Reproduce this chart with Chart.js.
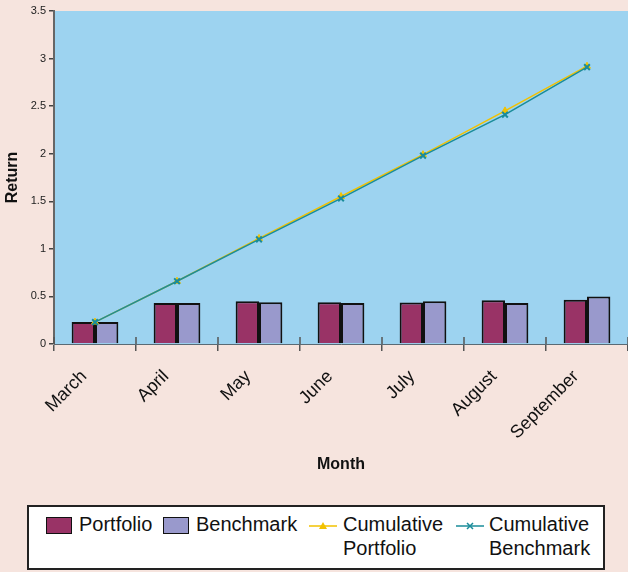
<!DOCTYPE html>
<html>
<head>
<meta charset="utf-8">
<script src="https://cdn.jsdelivr.net/npm/chart.js@4/dist/chart.umd.min.js"></script>
<style>
  html, body { margin: 0; padding: 0; background: #F6E4DE; }
  #wrap { position: relative; width: 628px; height: 572px; overflow: hidden; }
  canvas { position: absolute; left: 0; top: 0; }
  #legend { position: absolute; left: 27px; top: 505px; width: 574px; height: 61px; background: #fff; border: 2px solid #222;
            font-family: "Liberation Sans", Arial, sans-serif; font-size: 20px; line-height: 24px; color: #111; }
  .it { position: absolute; white-space: nowrap; }
  .sw { position: absolute; width: 24px; height: 15px; border: 1px solid #111; }
</style>
</head>
<body>
<div id="wrap">
  <canvas id="c" width="628" height="572"></canvas>
  <div id="legend"></div>
</div>
<script>
const categories = ["March", "April", "May", "June", "July", "August", "September"];
const portfolio = [0.23, 0.43, 0.45, 0.44, 0.435, 0.46, 0.465];
const benchmark = [0.23, 0.43, 0.44, 0.43, 0.45, 0.43, 0.50];
const cumulativePortfolio = [0.23, 0.66, 1.11, 1.55, 1.99, 2.45, 2.92];
const cumulativeBenchmark = [0.23, 0.66, 1.10, 1.53, 1.98, 2.41, 2.91];
const yTicks = [0, 0.5, 1, 1.5, 2, 2.5, 3, 3.5];
const yTickLabels = ["0", "0.5", "1", "1.5", "2", "2.5", "3", "3.5"];

const seriesNames = ["Portfolio", "Benchmark", "Cumulative\nPortfolio", "Cumulative\nBenchmark"];
const colors = { portfolio: "#993366", benchmark: "#9999CC", cumP: "#F2C200", cumB: "#1A8C9A" };

const FONT = '"Liberation Sans", Arial, sans-serif';

const plotBg = {
  id: 'plotBg',
  beforeDraw(chart) {
    const { ctx, chartArea: a } = chart;
    ctx.save();
    ctx.fillStyle = '#9DD3F0';
    ctx.fillRect(a.left, a.top, a.right - a.left, a.bottom - a.top);
    ctx.restore();
  },
  afterDatasetsDraw(chart) {
    const { ctx, chartArea: a } = chart;
    const xs = chart.scales.x;
    ctx.save();
    ctx.strokeStyle = '#555';
    ctx.lineWidth = 1.5;
    for (let i = 0; i <= categories.length; i++) {
      const px = Math.round(xs.getPixelForValue(i - 0.5));
      ctx.beginPath();
      ctx.moveTo(px, a.bottom - 7);
      ctx.lineTo(px, a.bottom);
      ctx.stroke();
    }
    ctx.restore();
  }
};

new Chart(document.getElementById('c'), {
  type: 'bar',
  data: {
    labels: categories,
    datasets: [
      { type: 'line', label: 'Cumulative Benchmark', data: cumulativeBenchmark, borderColor: colors.cumB, backgroundColor: colors.cumB,
        borderWidth: 1.5, pointStyle: 'crossRot', pointRadius: 4, pointBorderWidth: 2, pointBorderColor: colors.cumB, order: 0, tension: 0 },
      { type: 'line', label: 'Cumulative Portfolio', data: cumulativePortfolio, borderColor: colors.cumP, backgroundColor: colors.cumP,
        borderWidth: 1.5, pointStyle: 'triangle', pointRadius: 4, pointBorderWidth: 1, pointBorderColor: colors.cumP, order: 1, tension: 0 },
      { label: 'Portfolio', data: portfolio, backgroundColor: colors.portfolio, borderColor: '#111', borderWidth: 2,
        categoryPercentage: 0.57, barPercentage: 1.0, order: 2 },
      { label: 'Benchmark', data: benchmark, backgroundColor: colors.benchmark, borderColor: '#111', borderWidth: 2,
        categoryPercentage: 0.57, barPercentage: 1.0, order: 2 }
    ]
  },
  options: {
    responsive: false,
    animation: false,
    devicePixelRatio: 1,
    layout: { autoPadding: false, padding: { left: 3, top: 11, right: 0, bottom: 98 } },
    plugins: { legend: { display: false }, tooltip: { enabled: false } },
    scales: {
      x: {
        grid: { display: true, drawOnChartArea: false, offset: true, color: '#555', lineWidth: 1.5, tickLength: 7 },
        border: { display: true, color: '#5a6a74', width: 1 },
        ticks: { minRotation: 45, maxRotation: 45, autoSkip: false, color: '#111', font: { family: FONT, size: 18 }, padding: 15, labelOffset: -11 },
        title: { display: true, text: 'Month', color: '#111', font: { family: FONT, size: 16, weight: 'bold' }, padding: 0 },
        afterFit(s) { s.height = 130; s.paddingLeft = 0; s.paddingRight = 0; }
      },
      y: {
        min: 0, max: 3.5,
        afterBuildTicks(s) { s.ticks = yTicks.map(v => ({ value: v })); },
        grid: { display: true, drawOnChartArea: false, color: '#444', lineWidth: 1.5, tickLength: 5 },
        border: { display: true, color: '#666', width: 2 },
        ticks: { color: '#222', font: { family: FONT, size: 11 }, padding: 3,
                 callback: (v) => { const i = yTicks.indexOf(v); return i >= 0 ? yTickLabels[i] : ''; } },
        title: { display: true, text: 'Return', color: '#111', font: { family: FONT, size: 16, weight: 'bold' }, padding: 0 },
        afterFit(s) { s.width = 51; }
      }
    }
  },
  plugins: [plotBg]
});

const lg = document.getElementById('legend');
function addText(txt, left) {
  const d = document.createElement('div');
  d.className = 'it';
  d.style.left = left + 'px';
  d.style.top = '5px';
  d.innerHTML = txt.split('\n').join('<br>');
  lg.appendChild(d);
}
function addSwatch(color, left) {
  const s = document.createElement('div');
  s.className = 'sw';
  s.style.left = left + 'px';
  s.style.top = '10px';
  s.style.background = color;
  lg.appendChild(s);
}
function addLineMarker(color, left, kind) {
  const ns = 'http://www.w3.org/2000/svg';
  const svg = document.createElementNS(ns, 'svg');
  svg.setAttribute('width', '28'); svg.setAttribute('height', '12');
  svg.style.position = 'absolute'; svg.style.left = left + 'px'; svg.style.top = '13px';
  const ln = document.createElementNS(ns, 'line');
  ln.setAttribute('x1', '0'); ln.setAttribute('y1', '6'); ln.setAttribute('x2', '28'); ln.setAttribute('y2', '6');
  ln.setAttribute('stroke', color); ln.setAttribute('stroke-width', '1.5');
  svg.appendChild(ln);
  if (kind === 'tri') {
    const p = document.createElementNS(ns, 'polygon');
    p.setAttribute('points', '14,2 18,9 10,9'); p.setAttribute('fill', color);
    svg.appendChild(p);
  } else {
    const p = document.createElementNS(ns, 'path');
    p.setAttribute('d', 'M11,3 L17,9 M17,3 L11,9'); p.setAttribute('stroke', color); p.setAttribute('stroke-width', '1.5');
    svg.appendChild(p);
  }
  lg.appendChild(svg);
}
addSwatch(colors.portfolio, 17);
addText(seriesNames[0], 50);
addSwatch(colors.benchmark, 134);
addText(seriesNames[1], 167);
addLineMarker(colors.cumP, 280, 'tri');
addText(seriesNames[2], 314);
addLineMarker(colors.cumB, 427, 'x');
addText(seriesNames[3], 460);
</script>
</body>
</html>
